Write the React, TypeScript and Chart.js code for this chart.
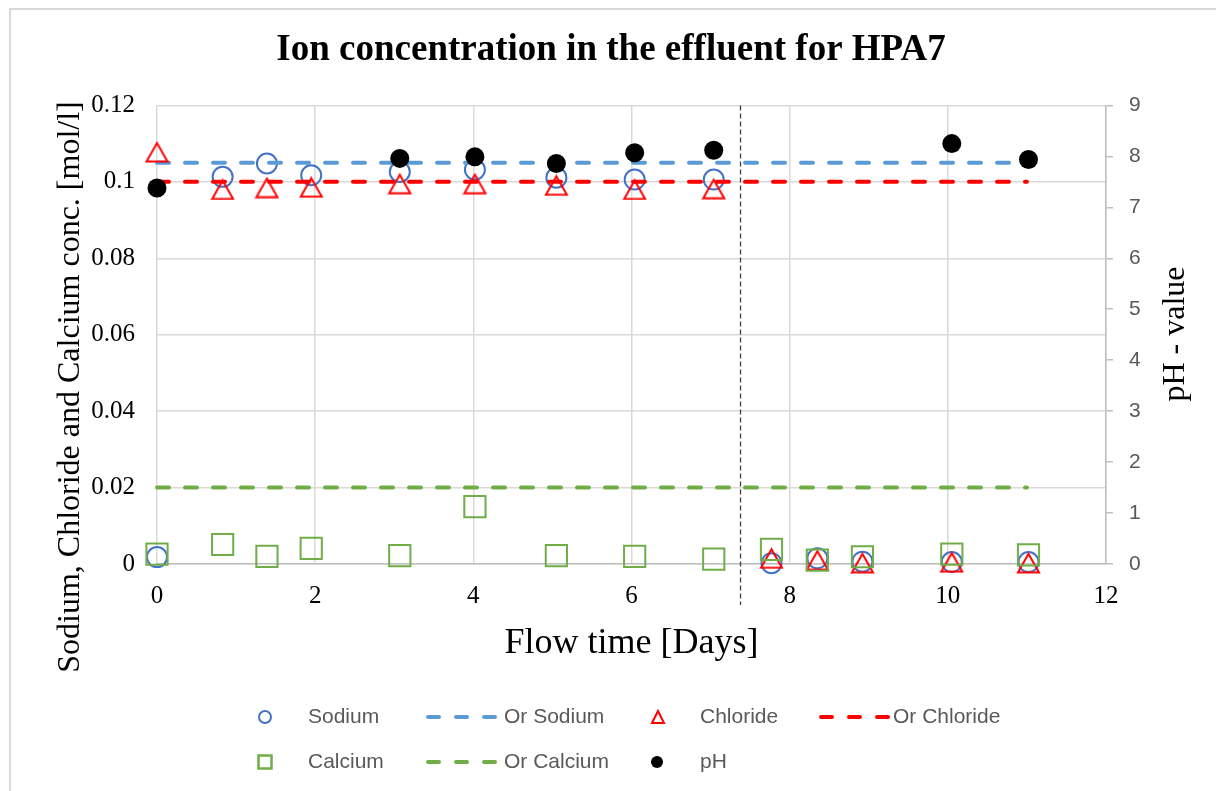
import React, { useEffect, useRef } from 'react';
import { Chart, registerables } from 'chart.js';

Chart.register(...registerables);

// Sampling times (days) for the ion measurements
const ionDays = [0, 0.83, 1.39, 1.95, 3.07, 4.02, 5.05, 6.04, 7.04, 7.77, 8.35, 8.92, 10.05, 11.02];
// Effluent concentrations [mol/l]
const sodium = [0.0018, 0.1013, 0.1048, 0.1017, 0.1026, 0.1032, 0.1011, 0.1006, 0.1006, 0.0002, 0.0015, 0.0006, 0.0005, 0.0005];
const chloride = [0.1078, 0.098, 0.0985, 0.0986, 0.0995, 0.0995, 0.0991, 0.098, 0.0982, 0.0015, 0.001, 0.0003, 0.0005, 0.0003];
const calcium = [0.0026, 0.0051, 0.002, 0.0041, 0.0022, 0.015, 0.0022, 0.002, 0.0013, 0.0038, 0.001, 0.0019, 0.0026, 0.0024];
// pH readings
const phDays = [0, 3.07, 4.02, 5.05, 6.04, 7.04, 10.05, 11.02];
const phValues = [7.38, 7.96, 7.99, 7.86, 8.07, 8.12, 8.25, 7.94];
// Original (injected) concentrations, drawn as reference lines over this span
const refDays = [0, 11];
const origSodium = 0.105;
const origChloride = 0.1;
const origCalcium = 0.02;
// Day at which the injected fluid was switched
const switchDay = 7.37;

// Axis ranges
const dayRange = [0, 12, 2];
const concRange = [0, 0.12, 0.02];
const phRange = [0, 9, 1];

const titleText = 'Ion concentration in the effluent for HPA7';
const xTitle = 'Flow time [Days]';
const yTitle = 'Sodium, Chloride and Calcium conc. [mol/l]';
const y1Title = 'pH - value';
const seriesLabels = ['Sodium', 'Or Sodium', 'Chloride', 'Or Chloride', 'Calcium', 'Or Calcium', 'pH'];

const BLUE = '#4472C4';
const LIGHT_BLUE = '#5B9BD5';
const RED = '#FF0000';
const GREEN = '#70AD47';
const SERIF = "'Liberation Serif', 'Times New Roman', serif";
const SANS = "'Liberation Sans', Arial, sans-serif";

const toPoints = (xs: number[], ys: number[]) => xs.map((x, i) => ({ x, y: ys[i] }));
const flatLine = (value: number) => refDays.map((x) => ({ x, y: value }));

function makeTriangle(w: number, h: number, color: string, lw: number) {
  const c = document.createElement('canvas');
  c.width = w;
  c.height = h;
  const g = c.getContext('2d')!;
  g.strokeStyle = color;
  g.lineWidth = lw;
  g.lineJoin = 'miter';
  g.beginPath();
  g.moveTo(lw, h - lw / 2 - 0.5);
  g.lineTo(w / 2, lw);
  g.lineTo(w - lw, h - lw / 2 - 0.5);
  g.closePath();
  g.stroke();
  return c;
}

const backgroundPlugin = {
  id: 'pageBackground',
  beforeDraw(chart: any) {
    const { ctx, width, height } = chart;
    ctx.save();
    ctx.fillStyle = '#ffffff';
    ctx.fillRect(0, 0, width, height);
    ctx.strokeStyle = '#d9d9d9';
    ctx.lineWidth = 2;
    ctx.beginPath();
    ctx.moveTo(10, height);
    ctx.lineTo(10, 9);
    ctx.lineTo(width, 9);
    ctx.stroke();
    ctx.restore();
  },
};

const switchLinePlugin = {
  id: 'switchLine',
  afterDatasetsDraw(chart: any) {
    const { ctx, chartArea, scales } = chart;
    const x = Math.round(scales.x.getPixelForValue(switchDay)) + 0.5;
    ctx.save();
    ctx.strokeStyle = '#404040';
    ctx.lineWidth = 1.3;
    ctx.setLineDash([5, 3]);
    ctx.beginPath();
    ctx.moveTo(x, chartArea.top);
    ctx.lineTo(x, chartArea.bottom + 41);
    ctx.stroke();
    ctx.restore();
  },
};

const sideTitlesPlugin = {
  id: 'sideTitles',
  afterDraw(chart: any) {
    const { ctx } = chart;
    ctx.save();
    ctx.fillStyle = '#000000';
    ctx.font = `32px ${SERIF}`;
    ctx.textAlign = 'center';
    ctx.textBaseline = 'middle';
    const draw = (text: string, x: number, y: number) => {
      ctx.save();
      ctx.translate(x, y);
      ctx.rotate(-Math.PI / 2);
      ctx.fillText(text, 0, 0);
      ctx.restore();
    };
    draw(yTitle, 71, 387);
    draw(y1Title, 1176, 334);
    ctx.restore();
  },
};

const legendPlugin = {
  id: 'excelLegend',
  afterDraw(chart: any) {
    const { ctx } = chart;
    const labels = chart.data.datasets.map((d: any) => d.label);
    const row1 = 717;
    const row2 = 762;
    const items = [
      { i: 0, kind: 'circle', color: BLUE, mx: 265, tx: 308, y: row1 },
      { i: 1, kind: 'dash', color: LIGHT_BLUE, mx: 426, tx: 504, y: row1 },
      { i: 2, kind: 'triangle', color: RED, mx: 658, tx: 700, y: row1 },
      { i: 3, kind: 'dash', color: RED, mx: 819, tx: 893, y: row1 },
      { i: 4, kind: 'square', color: GREEN, mx: 265, tx: 308, y: row2 },
      { i: 5, kind: 'dash', color: GREEN, mx: 426, tx: 504, y: row2 },
      { i: 6, kind: 'dot', color: '#000000', mx: 657, tx: 700, y: row2 },
    ];
    ctx.save();
    for (const it of items) {
      ctx.save();
      ctx.strokeStyle = it.color;
      ctx.fillStyle = it.color;
      if (it.kind === 'circle') {
        ctx.lineWidth = 2;
        ctx.beginPath();
        ctx.arc(it.mx, it.y, 6, 0, Math.PI * 2);
        ctx.stroke();
      } else if (it.kind === 'triangle') {
        ctx.lineWidth = 2;
        ctx.beginPath();
        ctx.moveTo(it.mx - 6, it.y + 6);
        ctx.lineTo(it.mx, it.y - 6);
        ctx.lineTo(it.mx + 6, it.y + 6);
        ctx.closePath();
        ctx.stroke();
      } else if (it.kind === 'square') {
        ctx.lineWidth = 2.5;
        ctx.strokeRect(it.mx - 6.5, it.y - 6.5, 13, 13);
      } else if (it.kind === 'dot') {
        ctx.beginPath();
        ctx.arc(it.mx, it.y, 6, 0, Math.PI * 2);
        ctx.fill();
      } else {
        ctx.lineWidth = 4;
        ctx.lineCap = 'round';
        ctx.setLineDash([11, 17]);
        ctx.beginPath();
        ctx.moveTo(it.mx + 2, it.y);
        ctx.lineTo(it.mx + 71, it.y);
        ctx.stroke();
      }
      ctx.restore();
      ctx.fillStyle = '#595959';
      ctx.font = `21px ${SANS}`;
      ctx.textAlign = 'left';
      ctx.textBaseline = 'middle';
      ctx.fillText(labels[it.i], it.tx, it.y);
    }
    ctx.restore();
  },
};

const refLine = (label: string, value: number, color: string, order: number) => ({
  label,
  data: flatLine(value),
  showLine: true,
  borderColor: color,
  backgroundColor: color,
  borderWidth: 4,
  borderDash: [12, 16],
  borderCapStyle: 'round',
  pointRadius: 0,
  clip: false,
  yAxisID: 'y',
  order,
});

export default function App() {
  const canvasRef = useRef<HTMLCanvasElement | null>(null);

  useEffect(() => {
    if (!canvasRef.current) return;
    const triangle = makeTriangle(25, 22, RED, 2);
    const chart = new Chart(canvasRef.current, {
      type: 'scatter',
      data: {
        datasets: [
          {
            label: seriesLabels[0],
            data: toPoints(ionDays, sodium),
            pointStyle: 'circle',
            pointRadius: 10,
            pointBorderWidth: 2,
            pointBorderColor: BLUE,
            pointBackgroundColor: 'rgba(0,0,0,0)',
            borderColor: BLUE,
            backgroundColor: 'rgba(0,0,0,0)',
            clip: false,
            yAxisID: 'y',
            order: 7,
          },
          refLine(seriesLabels[1], origSodium, LIGHT_BLUE, 6),
          {
            label: seriesLabels[2],
            data: toPoints(ionDays, chloride),
            pointStyle: triangle,
            pointRadius: 12,
            borderColor: RED,
            backgroundColor: 'rgba(0,0,0,0)',
            clip: false,
            yAxisID: 'y',
            order: 5,
          },
          refLine(seriesLabels[3], origChloride, RED, 4),
          {
            label: seriesLabels[4],
            data: toPoints(ionDays, calcium),
            pointStyle: 'rect',
            pointRadius: 15,
            pointBorderWidth: 2,
            pointBorderColor: GREEN,
            pointBackgroundColor: 'rgba(0,0,0,0)',
            borderColor: GREEN,
            backgroundColor: 'rgba(0,0,0,0)',
            clip: false,
            yAxisID: 'y',
            order: 3,
          },
          refLine(seriesLabels[5], origCalcium, GREEN, 2),
          {
            label: seriesLabels[6],
            data: toPoints(phDays, phValues),
            pointStyle: 'circle',
            pointRadius: 9.5,
            pointBorderWidth: 0,
            pointBackgroundColor: '#000000',
            pointBorderColor: '#000000',
            borderColor: '#000000',
            backgroundColor: '#000000',
            clip: false,
            yAxisID: 'y1',
            order: 1,
          },
        ] as any,
      },
      options: {
        responsive: false,
        animation: false,
        events: [],
        devicePixelRatio: 1,
        layout: { padding: { left: 6, right: 0, top: 0, bottom: 0 } },
        plugins: {
          legend: { display: false },
          tooltip: { enabled: false },
          title: {
            display: true,
            text: titleText,
            color: '#000000',
            font: { family: SERIF, size: 37, weight: 'bold' },
            padding: { top: 28, bottom: 33 },
          },
        },
        scales: {
          x: {
            type: 'linear',
            position: 'bottom',
            min: dayRange[0],
            max: dayRange[1],
            ticks: {
              stepSize: dayRange[2],
              color: '#000000',
              font: { family: SERIF, size: 25 },
              padding: 17,
            },
            grid: { color: '#d9d9d9', lineWidth: 1.5, drawTicks: false },
            border: { color: '#bfbfbf', width: 1.5 },
            title: {
              display: true,
              text: xTitle,
              color: '#000000',
              font: { family: SERIF, size: 36 },
              padding: { top: 0, bottom: 126 },
            },
            afterFit(scale: any) {
              scale.height = 227;
            },
          },
          y: {
            type: 'linear',
            position: 'left',
            min: concRange[0],
            max: concRange[1],
            ticks: {
              stepSize: concRange[2],
              color: '#000000',
              font: { family: SERIF, size: 25 },
              padding: 22,
              callback: (v: any) => (Number(v) === 0 ? '0' : String(+Number(v).toFixed(2))),
            },
            grid: { color: '#d9d9d9', lineWidth: 1.5, drawTicks: false },
            border: { display: false },
            afterFit(scale: any) {
              scale.width = 151;
            },
          },
          y1: {
            type: 'linear',
            position: 'right',
            min: phRange[0],
            max: phRange[1],
            ticks: {
              stepSize: phRange[2],
              color: '#595959',
              font: { family: SANS, size: 21 },
              padding: 16,
            },
            grid: {
              drawOnChartArea: false,
              drawTicks: true,
              tickLength: 7,
              color: '#bfbfbf',
              lineWidth: 1.5,
            },
            border: { color: '#bfbfbf', width: 1.5 },
            afterFit(scale: any) {
              scale.width = 110;
            },
          },
        },
      } as any,
      plugins: [backgroundPlugin, switchLinePlugin, sideTitlesPlugin, legendPlugin],
    });
    return () => chart.destroy();
  }, []);

  return (
    <div style={{ position: 'absolute', left: 0, top: 0, width: 1216, height: 791, background: '#ffffff' }}>
      <canvas ref={canvasRef} width={1216} height={791} />
    </div>
  );
}
